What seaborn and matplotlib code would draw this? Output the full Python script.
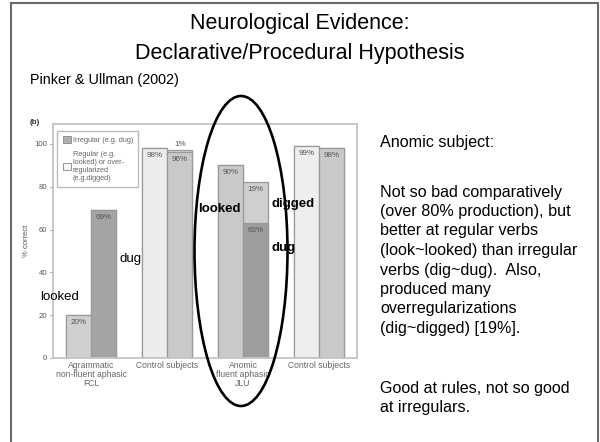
import matplotlib
matplotlib.use("Agg")
import matplotlib.pyplot as plt
import seaborn as sns
import pandas as pd
from matplotlib.patches import Ellipse, Rectangle, Patch

# ---------------- data ----------------
groups = ["g1", "g2", "g3", "g4"]
group_labels = ["Agrammatic\nnon-fluent aphasic\nFCL", "Control subjects",
                "Anomic\nfluent aphasic\nJLU", "Control subjects"]
regular = [20, 98, 90, 99]
irregular = [69, 96, 63, 98]
overreg = [0, 1, 19, 0]
yticks = [0, 20, 40, 60, 80, 100]

title_lines = ["Neurological Evidence:", "Declarative/Procedural Hypothesis"]
subtitle = "Pinker & Ullman (2002)"
side_heading = "Anomic subject:"
side_lines = ["Not so bad comparatively", "(over 80% production), but",
              "better at regular verbs", "(look~looked) than irregular",
              "verbs (dig~dug).  Also,", "produced many",
              "overregularizations", "(dig~digged) [19%]."]
side_lines2 = ["Good at rules, not so good", "at irregulars."]
legend_labels = ["Irregular (e.g. dug)",
                 "Regular (e.g.\nlooked) or over-\nregularized\n(e.g.digged)"]

# ---------------- style ----------------
regular_colors = ["#d0d0d0", "#ececec", "#c9c9c9", "#eeeeee"]
irregular_colors = ["#a4a4a4", "#c9c9c9", "#9e9e9e", "#c9c9c9"]
overreg_colors = ["#cfcfcf", "#d4d4d4", "#cfcfcf", "#cfcfcf"]

sns.set_style("white")
plt.rcParams["font.family"] = ["Liberation Sans", "DejaVu Sans"]
plt.rcParams["text.color"] = "black"

W, H = 600, 442
fig = plt.figure(figsize=(6, 4.42), dpi=100)
fx = lambda x: x / W
fy = lambda y: 1 - y / H

ax = fig.add_axes([fx(53), fy(358), (357 - 53) / W, (358 - 124) / H])

df_tot = pd.DataFrame({"group": groups * 2,
                       "series": ["Regular"] * 4 + ["Irregular"] * 4,
                       "value": regular + [i + o for i, o in zip(irregular, overreg)]})
df_irr = pd.DataFrame({"group": groups * 2,
                       "series": ["Regular"] * 4 + ["Irregular"] * 4,
                       "value": regular + irregular})

kw = dict(x="group", y="value", hue="series", hue_order=["Regular", "Irregular"],
          order=groups, width=0.67, legend=False, errorbar=None, ax=ax,
          edgecolor="#999999", linewidth=0.9)
sns.barplot(data=df_tot, **kw)
sns.barplot(data=df_irr, **kw)

c = ax.containers
for i in range(4):
    c[0][i].set_facecolor(regular_colors[i])
    c[1][i].set_facecolor(overreg_colors[i])
    c[2][i].set_facecolor(regular_colors[i])
    c[3][i].set_facecolor(irregular_colors[i])

lab_kw = dict(ha="center", va="center", fontsize=5.8, color="#555555")
for i in range(4):
    b = c[0][i]
    ax.text(b.get_x() + b.get_width() / 2, regular[i] - 3.4, f"{regular[i]}%", **lab_kw)
    b = c[3][i]
    xc = b.get_x() + b.get_width() / 2
    ax.text(xc, irregular[i] - 3.4, f"{irregular[i]}%", **lab_kw)
    if overreg[i] > 0:
        tot = irregular[i] + overreg[i]
        if overreg[i] < 5:
            ax.text(xc, tot + 2.6, f"{overreg[i]}%", **lab_kw)
        else:
            ax.text(xc, tot - 3.4, f"{overreg[i]}%", **lab_kw)

ax.set_xlim(-0.5, 3.5)
ax.set_ylim(0, 109.3)
ax.set_yticks(yticks)
ax.set_yticklabels([str(t) for t in yticks])
ax.set_xticks(range(4))
ax.set_xticklabels(group_labels, fontsize=6.2, color="#666666", linespacing=1.0)
ax.tick_params(axis="x", length=0, pad=2)
ax.tick_params(axis="y", length=2, width=0.6, color="#888888", labelsize=5.6,
               labelcolor="#555555", pad=2, left=True)
ax.set_xlabel("")
ax.set_ylabel("% correct", fontsize=5.5, color="#555555", labelpad=3)
for s in ax.spines.values():
    s.set_color("#c4c4c4")
    s.set_linewidth(1.3)

ax.legend(handles=[Patch(facecolor="#b0b0b0", edgecolor="#888888", linewidth=0.6),
                   Patch(facecolor="#f4f4f4", edgecolor="#888888", linewidth=0.6)],
          labels=legend_labels, loc="upper left", bbox_to_anchor=(0.0, 0.99),
          fontsize=5.3, frameon=True, fancybox=False, edgecolor="#aaaaaa",
          handlelength=1.1, handleheight=1.1, handletextpad=0.3, borderpad=0.7,
          labelspacing=0.9, labelcolor="#666666", borderaxespad=0.6)

fig.text(fx(30), fy(122), "(b)", fontsize=5.8, fontweight="bold", color="#333333",
         ha="left", va="center")

# annotations
fig.text(fx(40), fy(297), "looked", fontsize=9.5, ha="left", va="center")
fig.text(fx(119), fy(259), "dug", fontsize=9.5, ha="left", va="center")
fig.text(fx(198), fy(209), "looked", fontsize=9.5, fontweight="bold", ha="left", va="center")
fig.text(fx(272), fy(204), "digged", fontsize=9.5, fontweight="bold", ha="left", va="center")
fig.text(fx(272), fy(248), "dug", fontsize=9.5, fontweight="bold", ha="left", va="center")

fig.add_artist(Ellipse((fx(241), fy(251)), 93 / W, 310 / H, transform=fig.transFigure,
                       fill=False, edgecolor="black", linewidth=1.9, zorder=5))

# slide text
fig.text(0.5, fy(23), title_lines[0], fontsize=15.5, ha="center", va="center")
fig.text(0.5, fy(53), title_lines[1], fontsize=15.5, ha="center", va="center")
fig.text(fx(30), fy(80), subtitle, fontsize=10.4, ha="left", va="center")
fig.text(fx(380), fy(143), side_heading, fontsize=11.6, ha="left", va="center")
for k, line in enumerate(side_lines):
    fig.text(fx(380), fy(192 + 19.5 * k), line, fontsize=11.6, ha="left", va="center")
for k, line in enumerate(side_lines2):
    fig.text(fx(380), fy(388 + 19.5 * k), line, fontsize=11.6, ha="left", va="center")

# slide border
fig.add_artist(Rectangle((fx(11), -0.1), (598 - 11) / W, fy(3) + 0.1,
                         transform=fig.transFigure, fill=False,
                         edgecolor="#6a6a6a", linewidth=1.5))

fig.savefig("out.png", dpi=100)
